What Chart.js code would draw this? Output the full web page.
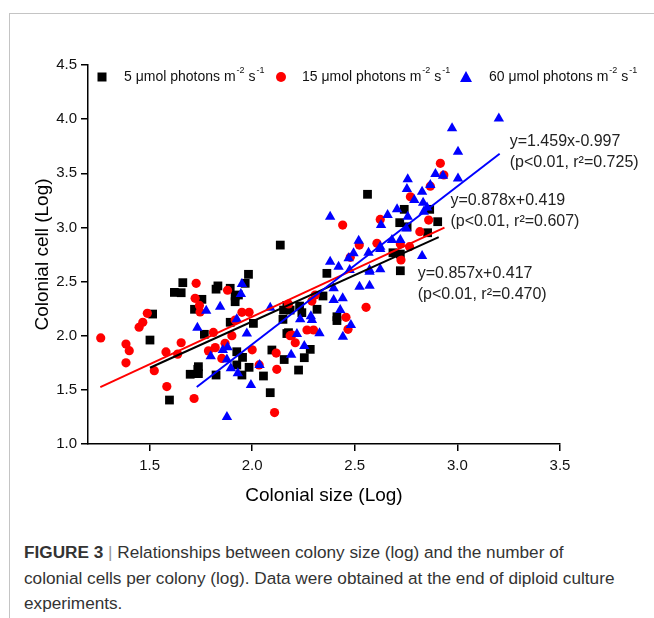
<!DOCTYPE html>
<html>
<head>
<meta charset="utf-8">
<script src="https://cdn.jsdelivr.net/npm/chart.js"></script>
<style>
  body { margin: 0; background: #fff; font-family: "Liberation Sans", Arial, sans-serif; }
  #wrap { position: relative; width: 654px; height: 618px; overflow: hidden; }
  #frame { position: absolute; left: 9px; top: 13px; width: 660px; height: 620px;
           border-left: 1px solid #c4c4c4; border-top: 1px solid #c4c4c4; }
  #myChart { position: absolute; left: 0; top: 0; }
  #caption { position: absolute; left: 24px; top: 540px; width: 640px; white-space: nowrap;
             font-size: 17.2px; line-height: 25.5px; color: #333; }
  #caption b { color: #333; }
  #caption .bar { color: #999; }
</style>
</head>
<body>
<div id="wrap">
  <div id="frame"></div>
  <canvas id="myChart" width="654" height="520"></canvas>
  <div id="caption"><b>FIGURE 3</b> <span class="bar">|</span> Relationships between colony size (log) and the number of<br>colonial cells per colony (log). Data were obtained at the end of diploid culture<br>experiments.</div>
</div>
<script>
// 5 umol photons (black squares)
var lowX = [1.982, 1.662, 1.621, 1.654, 1.833, 1.824, 1.515, 1.502, 1.719, 1.755,
            1.893, 1.933, 1.917, 1.966, 1.893, 2.006, 1.767, 1.698, 1.735, 1.738,
            1.824, 1.597, 1.925, 1.953, 1.925, 1.985, 1.950, 2.055, 2.088, 2.096,
            2.156, 2.169, 2.153, 2.169, 2.137, 2.364, 2.150, 2.185, 2.231, 2.242,
            2.316, 2.345, 2.177, 2.283, 2.254, 2.226, 2.413, 2.413, 2.562, 2.741,
            2.865, 2.904, 2.719, 2.755, 2.855, 2.722, 2.686, 2.722, 1.917, 1.738];
var lowY = [2.567, 2.490, 2.400, 2.397, 2.460, 2.430, 2.200, 1.960, 2.244, 2.336,
            2.438, 2.376, 2.314, 2.484, 2.124, 2.114, 2.013, 1.644, 1.690, 1.650,
            1.637, 1.406, 1.852, 1.800, 1.730, 1.708, 1.637, 1.628, 1.474, 1.868,
            1.780, 2.020, 2.237, 2.280, 2.837, 2.576, 2.151, 2.237, 2.274, 2.213,
            2.244, 2.367, 2.028, 1.874, 1.797, 1.683, 2.175, 2.140, 3.306, 3.167,
            3.167, 3.053, 3.044, 3.006, 2.951, 2.754, 2.766, 2.600, 2.367, 1.714];

// 15 umol photons (red circles)
var midX = [1.262, 1.489, 1.467, 1.449, 1.385, 1.401, 1.385, 1.523, 1.584, 1.717,
            1.580, 1.637, 1.654, 1.727, 1.722, 1.743, 1.746, 1.811, 1.787, 1.820,
            1.852, 1.868, 1.901, 1.880, 1.950, 1.985, 2.000, 2.034, 2.117, 2.120,
            2.109, 2.185, 1.917, 2.441, 2.608, 2.522, 2.478, 2.177, 2.291, 2.307,
            2.210, 2.267, 2.299, 2.194, 2.457, 2.467, 2.555, 2.934, 2.771, 2.860,
            2.817, 2.624, 2.722, 2.767, 2.725, 2.917, 2.868];
var midY = [1.980, 2.207, 2.124, 2.078, 1.923, 1.862, 1.750, 1.677, 1.530, 1.420,
            1.850, 1.830, 1.935, 2.484, 2.345, 2.280, 2.220, 2.030, 1.860, 1.890,
            1.790, 1.930, 2.000, 2.420, 2.216, 2.216, 1.870, 1.730, 1.840, 1.690,
            1.290, 2.000, 2.145, 3.022, 2.853, 2.837, 2.724, 2.293, 2.320, 2.376,
            1.935, 2.053, 2.053, 2.006, 2.170, 2.059, 2.262, 3.484, 3.283, 3.068,
            2.961, 3.074, 2.847, 2.822, 2.699, 3.592, 3.381];

// 60 umol photons (blue triangles)
var highX = [1.950, 1.945, 1.844, 1.776, 1.733, 1.925, 1.974, 2.088, 1.880, 1.857,
             1.798, 1.877, 1.896, 1.930, 2.036, 1.994, 1.877, 2.190, 2.519, 2.494,
             2.380, 2.421, 2.475, 2.572, 2.397, 2.523, 2.572, 2.397, 2.441, 2.429,
             2.481, 2.442, 2.234, 2.286, 2.291, 2.328, 2.218, 2.254, 2.758, 2.754,
             2.893, 2.930, 3.003, 2.868, 2.828, 2.790, 2.833, 2.852, 2.836, 2.706,
             2.660, 2.758, 2.628, 2.751, 2.722, 2.681, 2.624, 2.567, 2.470, 2.828,
             2.624, 2.572, 2.380, 3.202, 2.974, 3.003, 2.624];
var highY = [2.477, 2.385, 2.268, 2.230, 2.074, 2.151, 2.020, 2.258, 1.893, 1.868,
             1.810, 1.780, 1.700, 1.653, 1.730, 1.545, 1.250, 1.825, 2.877, 2.761,
             2.683, 2.637, 2.607, 2.607, 2.438, 2.452, 2.462, 2.330, 2.345, 2.237,
             2.099, 1.990, 2.151, 2.180, 2.145, 2.022, 2.016, 1.905, 3.444, 3.355,
             3.493, 3.477, 3.453, 3.391, 3.330, 3.253, 3.228, 3.185, 3.145, 3.167,
             3.115, 3.099, 3.022, 2.991, 2.884, 2.884, 2.822, 2.766, 2.715, 2.736,
             2.613, 2.591, 3.099, 4.007, 3.915, 3.699, 2.800];

// regression lines: black, red, blue
var fitSlope = [0.857, 0.878, 1.459];
var fitIntercept = [0.417, 0.419, -0.997];
var fitFrom = [1.502, 1.260, 1.730];
var fitTo = [2.909, 2.937, 3.206];
var fitText = [
    ['y=0.857x+0.417', '(p<0.01, r\u00b2=0.470)'],
    ['y=0.878x+0.419', '(p<0.01, r\u00b2=0.607)'],
    ['y=1.459x-0.997', '(p<0.01, r\u00b2=0.725)']
];
var seriesNames = ['5', '15', '60'];
var seriesColors = ['#000000', '#ff0000', '#0000ff'];

var xTicks = [1.5, 2.0, 2.5, 3.0, 3.5];
var yTicks = [1.0, 1.5, 2.0, 2.5, 3.0, 3.5, 4.0, 4.5];

function pts(xs, ys) {
    var out = [];
    for (var i = 0; i < xs.length; i++) out.push({x: xs[i], y: ys[i]});
    return out;
}
function fitLine(i) {
    return [
        {x: fitFrom[i], y: fitSlope[i] * fitFrom[i] + fitIntercept[i]},
        {x: fitTo[i], y: fitSlope[i] * fitTo[i] + fitIntercept[i]}
    ];
}

var FONT = '"Liberation Sans", Arial, sans-serif';

// legend + equation labels drawn on top
var extras = {
    id: 'extras',
    afterDraw: function(chart) {
        var ctx = chart.ctx;
        ctx.save();
        // legend
        var markX = [102, 281, 466];
        var textX = [124, 302, 489];
        var ly = 77;
        var styles = ['rect', 'circle', 'triangle'];
        for (var i = 0; i < 3; i++) {
            ctx.fillStyle = seriesColors[i];
            ctx.beginPath();
            if (styles[i] == 'rect') ctx.rect(markX[i] - 4.5, ly - 4.5, 9, 9);
            else if (styles[i] == 'circle') ctx.arc(markX[i], ly, 5, 0, Math.PI * 2);
            else { ctx.moveTo(markX[i], ly - 6); ctx.lineTo(markX[i] + 6, ly + 5); ctx.lineTo(markX[i] - 6, ly + 5); ctx.closePath(); }
            ctx.fill();

            ctx.fillStyle = '#111';
            ctx.textBaseline = 'middle';
            ctx.textAlign = 'left';
            var x = textX[i];
            ctx.font = '14px ' + FONT;
            var s = seriesNames[i] + ' \u03bcmol photons m';
            ctx.fillText(s, x, ly);
            x += ctx.measureText(s).width;
            ctx.font = '9px ' + FONT;
            ctx.fillText('-2', x + 1, ly - 6);
            x += ctx.measureText('-2').width + 1;
            ctx.font = '14px ' + FONT;
            ctx.fillText(' s', x, ly);
            x += ctx.measureText(' s').width;
            ctx.font = '9px ' + FONT;
            ctx.fillText('-1', x + 1, ly - 6);
        }

        // equations, anchored near the end of each fit line
        var xs = chart.scales.x, ys = chart.scales.y;
        var off = [[-21, 36], [6, -27], [10, -12]];
        ctx.font = '16px ' + FONT;
        ctx.fillStyle = '#222';
        for (var k = 0; k < 3; k++) {
            var ex = xs.getPixelForValue(fitTo[k]);
            var ey = ys.getPixelForValue(fitSlope[k] * fitTo[k] + fitIntercept[k]);
            ctx.fillText(fitText[k][0], ex + off[k][0] , ey + off[k][1]);
            ctx.fillText(fitText[k][1], ex + off[k][0], ey + off[k][1] + 21);
        }
        ctx.restore();
    }
};

var ctx = document.getElementById("myChart").getContext("2d");
var myChart = new Chart(ctx, {
    type: 'scatter',
    data: {
        datasets: [
            {type: 'line', data: fitLine(2), borderColor: '#0000ff', borderWidth: 2, pointRadius: 0, showLine: true, fill: false, order: 0},
            {type: 'line', data: fitLine(1), borderColor: '#ff0000', borderWidth: 2, pointRadius: 0, showLine: true, fill: false, order: 1},
            {type: 'line', data: fitLine(0), borderColor: '#000000', borderWidth: 2, pointRadius: 0, showLine: true, fill: false, order: 2},
            {label: '60', data: pts(highX, highY), pointStyle: 'triangle', pointRadius: 6,
             backgroundColor: '#0000ff', borderColor: '#0000ff', borderWidth: 0, order: 3},
            {label: '15', data: pts(midX, midY), pointStyle: 'circle', pointRadius: 4.6,
             backgroundColor: '#ff0000', borderColor: '#ff0000', borderWidth: 0, order: 4},
            {label: '5', data: pts(lowX, lowY), pointStyle: 'rect', pointRadius: 6.2,
             backgroundColor: '#000000', borderColor: '#000000', borderWidth: 0, order: 5}
        ]
    },
    options: {
        responsive: false,
        animation: false,
        layout: { padding: {left: 27, right: 94, top: 65, bottom: 9} },
        plugins: { legend: {display: false}, tooltip: {enabled: false} },
        scales: {
            x: {
                type: 'linear', min: 1.2, max: 3.5,
                afterBuildTicks: function(s) { s.ticks = xTicks.map(function(v) { return {value: v}; }); },
                afterFit: function(s) { s.height = 67; },
                grid: {drawOnChartArea: false, drawTicks: true, tickLength: 7, color: '#000', lineWidth: 1.5},
                border: {display: true, color: '#000', width: 1.5},
                ticks: {color: '#111', padding: 6, font: {family: FONT, size: 15},
                        callback: function(v) { return Number(v).toFixed(1); }},
                title: {display: true, text: 'Colonial size (Log)', color: '#000', font: {family: FONT, size: 19}}
            },
            y: {
                type: 'linear', min: 1.0, max: 4.5,
                afterBuildTicks: function(s) { s.ticks = yTicks.map(function(v) { return {value: v}; }); },
                afterFit: function(s) { s.width = 61; },
                grid: {drawOnChartArea: false, drawTicks: true, tickLength: 7, color: '#000', lineWidth: 1.5},
                border: {display: true, color: '#000', width: 1.5},
                ticks: {color: '#111', padding: 4, font: {family: FONT, size: 15},
                        callback: function(v) { return Number(v).toFixed(1); }},
                title: {display: true, text: 'Colonial cell (Log)', color: '#000', font: {family: FONT, size: 19}}
            }
        }
    },
    plugins: [extras]
});
</script>
</body>
</html>
